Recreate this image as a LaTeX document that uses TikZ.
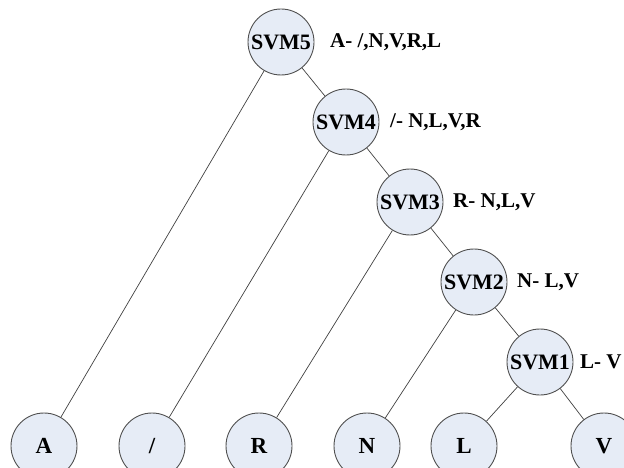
\documentclass[tikz,border=0pt]{standalone}
\usepackage{fontspec}
\setmainfont{Liberation Serif}
\definecolor{nodefill}{HTML}{E6ECF6}
\definecolor{nodeline}{HTML}{505050}
\definecolor{edgeline}{HTML}{404040}
\begin{document}
\begin{tikzpicture}[x=1pt,y=-1pt,
  svmnode/.style={circle,draw=nodeline,line width=0.9pt,fill=nodefill,
    minimum size=66pt,inner sep=0pt,font=\fontsize{22}{22}\selectfont\bfseries},
  leafnode/.style={svmnode,font=\fontsize{23}{23}\selectfont\bfseries},
  rulelabel/.style={anchor=west,inner sep=0pt,font=\fontsize{21}{21}\selectfont\bfseries},
  branch/.style={draw=edgeline,line width=0.7pt}]
\useasboundingbox (0,0) rectangle (624,468);

% classifier chain
\node[svmnode] (s5) at (281,42) {SVM5};
\node[svmnode] (s4) at (346,122) {SVM4};
\node[svmnode] (s3) at (410,202) {SVM3};
\node[svmnode] (s2) at (474,282) {SVM2};
\node[svmnode] (s1) at (540,362) {SVM1};

% rule labels
\node[rulelabel] (l5) at (330,42) {A- /,N,V,R,L};
\node[rulelabel] (l4) at (390,122) {/- N,L,V,R};
\node[rulelabel] (l3) at (453,202) {R- N,L,V};
\node[rulelabel] (l2) at (517,282) {N- L,V};
\node[rulelabel] (l1) at (580,362) {L- V};

% class leaves
\node[leafnode] (a) at (44,446) {A};
\node[leafnode] (sl) at (152,446) {/};
\node[leafnode] (r) at (259,446) {R};
\node[leafnode] (n) at (367,446) {N};
\node[leafnode] (l) at (464,446) {L};
\node[leafnode] (v) at (604,446) {V};

% branches
\draw[branch] (s5) -- (a);
\draw[branch] (s5) -- (s4);
\draw[branch] (s4) -- (sl);
\draw[branch] (s4) -- (s3);
\draw[branch] (s3) -- (r);
\draw[branch] (s3) -- (s2);
\draw[branch] (s2) -- (n);
\draw[branch] (s2) -- (s1);
\draw[branch] (s1) -- (l);
\draw[branch] (s1) -- (v);
\end{tikzpicture}
\end{document}
